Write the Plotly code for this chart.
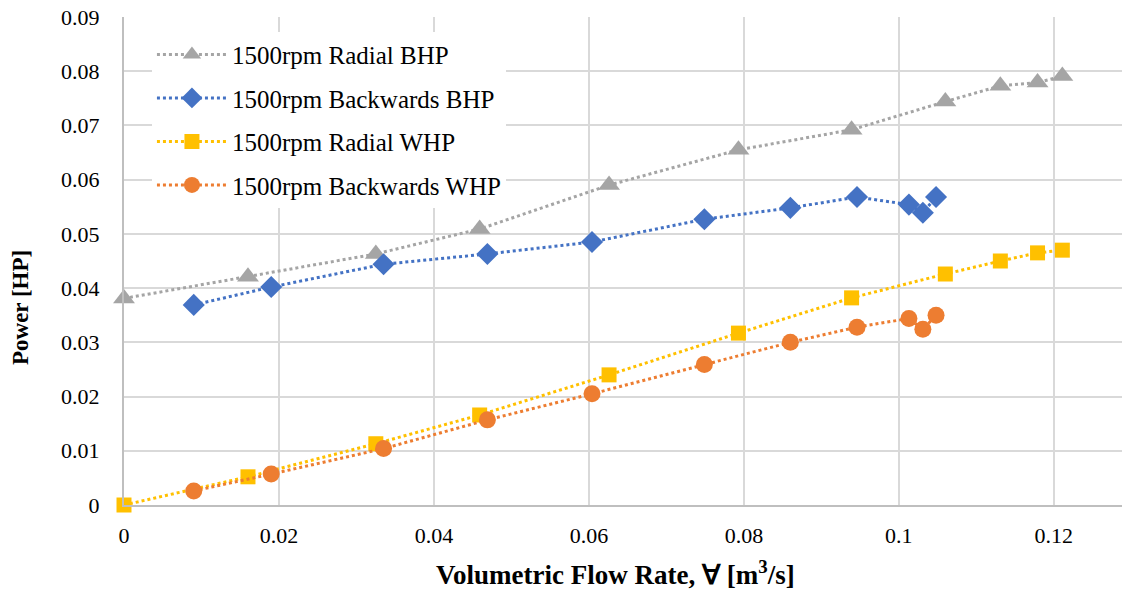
import plotly.graph_objects as go

# Data
radial_q = [0.0, 0.016, 0.0325, 0.0459, 0.0626, 0.0793, 0.0939, 0.106, 0.1131, 0.1179, 0.1211]
radial_bhp = [0.0381, 0.0421, 0.0463, 0.0509, 0.0590, 0.0655, 0.0692, 0.0744, 0.0773, 0.0779, 0.0791]
radial_whp = [0.0, 0.0052, 0.0113, 0.0166, 0.0240, 0.0317, 0.0382, 0.0426, 0.0450, 0.0465, 0.0470]

back_q = [0.009, 0.019, 0.0335, 0.0469, 0.0604, 0.0749, 0.086, 0.0946, 0.1013, 0.1031, 0.1048]
back_bhp = [0.0369, 0.0402, 0.0444, 0.0463, 0.0485, 0.0527, 0.0548, 0.0568, 0.0554, 0.0539, 0.0568]
back_whp = [0.0026, 0.0057, 0.0104, 0.0157, 0.0205, 0.0259, 0.0300, 0.0328, 0.0344, 0.0324, 0.0350]

x_ticks = [0, 0.02, 0.04, 0.06, 0.08, 0.1, 0.12]
x_tick_labels = ["0", "0.02", "0.04", "0.06", "0.08", "0.1", "0.12"]
y_ticks = [0, 0.01, 0.02, 0.03, 0.04, 0.05, 0.06, 0.07, 0.08, 0.09]
y_tick_labels = ["0", "0.01", "0.02", "0.03", "0.04", "0.05", "0.06", "0.07", "0.08", "0.09"]

x_title = "<b>Volumetric Flow Rate, ∀ [m<sup>3</sup>/s]</b>"
y_title = "<b>Power [HP]</b>"

series = [
    ("1500rpm Radial BHP", radial_q, radial_bhp, "#A5A5A5", "triangle-up", 19),
    ("1500rpm Backwards BHP", back_q, back_bhp, "#4472C4", "diamond", 17),
    ("1500rpm Radial WHP", radial_q, radial_whp, "#FFC000", "square", 15),
    ("1500rpm Backwards WHP", back_q, back_whp, "#ED7D31", "circle", 17),
]

fig = go.Figure()
for i, (name, xs, ys, color, sym, size) in enumerate(series):
    fig.add_trace(go.Scatter(
        x=xs, y=ys, name=name, mode="lines+markers",
        line=dict(color=color, width=3, dash="dot"),
        marker=dict(color=color, symbol=sym, size=size, line=dict(width=0)),
        legendgroup=f"g{i}", cliponaxis=False,
    ))

font_family = "Liberation Serif"
fig.update_layout(
    width=1125, height=592,
    margin=dict(l=124, r=3, t=17, b=87),
    paper_bgcolor="white", plot_bgcolor="white",
    font=dict(family=font_family, size=22, color="black"),
    showlegend=True,
    legend=dict(
        x=0.028, y=0.97, xanchor="left", yanchor="top",
        bgcolor="white", font=dict(family=font_family, size=25, color="black"),
        tracegroupgap=8, itemwidth=70,
    ),
    xaxis=dict(
        range=[0, 0.1288], tickvals=x_ticks, ticktext=x_tick_labels,
        showgrid=True, gridcolor="#D9D9D9", gridwidth=2,
        showline=True, linecolor="#BFBFBF", linewidth=2,
        zeroline=False, ticks="", ticklabelstandoff=10,
        tickfont=dict(family=font_family, size=22, color="black"),
    ),
    yaxis=dict(
        range=[0, 0.09], tickvals=y_ticks, ticktext=y_tick_labels,
        showgrid=True, gridcolor="#D9D9D9", gridwidth=2,
        showline=True, linecolor="#BFBFBF", linewidth=2,
        zeroline=False, ticks="", ticklabelstandoff=18,
        tickfont=dict(family=font_family, size=22, color="black"),
    ),
    annotations=[
        dict(text=x_title, xref="paper", yref="paper",
             x=(615 - 124) / 998, y=-(573 - 505) / 488,
             xanchor="center", yanchor="middle", showarrow=False,
             font=dict(family=font_family, size=27, color="black")),
        dict(text=y_title, xref="paper", yref="paper",
             x=-(124 - 20) / 998, y=(505 - 308) / 488,
             xanchor="center", yanchor="middle", showarrow=False, textangle=-90,
             font=dict(family=font_family, size=23, color="black")),
    ],
)

fig.write_html("out.html")
